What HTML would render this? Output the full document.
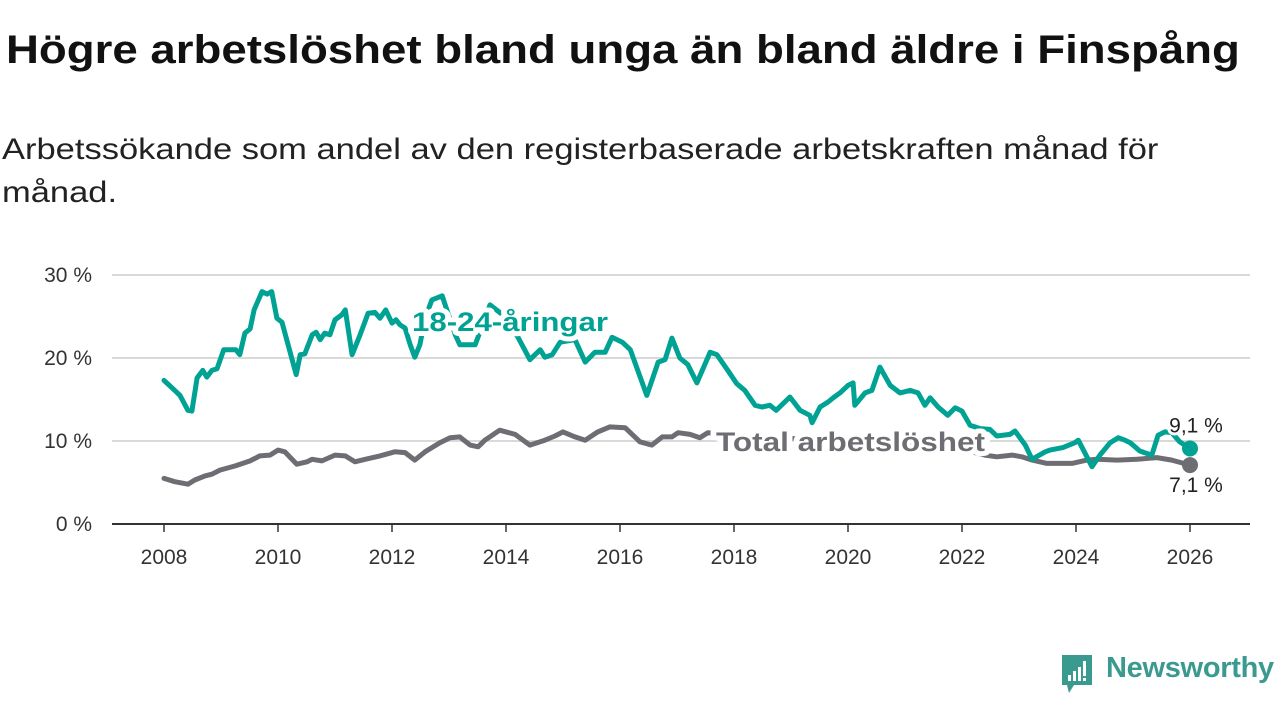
<!DOCTYPE html>
<html><head><meta charset="utf-8">
<style>
body{margin:0;width:1280px;height:720px;background:#fff;font-family:"Liberation Sans","DejaVu Sans",sans-serif;overflow:hidden;position:relative}
#title{position:absolute;left:6px;top:28px;font-size:40px;font-weight:bold;color:#111;transform:scaleX(1.14);transform-origin:0 0;white-space:nowrap}
#sub{position:absolute;left:2px;top:128px;font-size:30px;line-height:43px;color:#222;width:1100px;transform:scaleX(1.15);transform-origin:0 0;white-space:nowrap}
svg{position:absolute;left:0;top:0}
#logo{position:absolute;left:1060px;top:655px;}
#logotext{position:absolute;left:1106px;top:652px;font-size:29px;color:#3a9a90;font-weight:bold;letter-spacing:-0.3px}
</style></head><body>
<div id="title">Högre arbetslöshet bland unga än bland äldre i Finspång</div>
<div id="sub">Arbetssökande som andel av den registerbaserade arbetskraften månad för<br>månad.</div>
<svg id="chart" width="1280" height="720"></svg>
<svg id="logo" width="34" height="40">
<path d="M2 0 H32 V30 H14 L9 38 L7 30 H2 Z" fill="#3a9a90"/>
<rect x="8" y="20" width="3" height="6" fill="#fff"/><rect x="13" y="16" width="3" height="10" fill="#fff"/><rect x="18" y="12" width="3" height="14" fill="#fff"/><rect x="23" y="6" width="3" height="15" fill="#fff"/><rect x="23" y="23" width="3" height="3" fill="#fff"/>
</svg>
<div id="logotext">Newsworthy</div>
<script>
const yTicks=[0,10,20,30];
const xTicks=[2008,2010,2012,2014,2016,2018,2020,2022,2024,2026];
const youthDates=[2008.0,2008.19,2008.28,2008.42,2008.49,2008.58,2008.68,2008.75,2008.84,2008.93,2009.05,2009.26,2009.33,2009.42,2009.51,2009.58,2009.72,2009.81,2009.89,2009.98,2010.07,2010.32,2010.39,2010.47,2010.60,2010.67,2010.74,2010.82,2010.91,2011.00,2011.12,2011.18,2011.30,2011.44,2011.58,2011.70,2011.79,2011.89,2012.00,2012.07,2012.14,2012.23,2012.32,2012.40,2012.49,2012.58,2012.70,2012.88,2012.98,2013.11,2013.19,2013.46,2013.72,2013.98,2014.21,2014.42,2014.60,2014.68,2014.81,2014.95,2015.21,2015.39,2015.56,2015.74,2015.86,2016.04,2016.18,2016.47,2016.67,2016.79,2016.91,2017.05,2017.19,2017.35,2017.58,2017.70,2017.88,2018.05,2018.19,2018.37,2018.49,2018.63,2018.74,2018.98,2019.16,2019.33,2019.37,2019.51,2019.65,2019.74,2019.86,2020.00,2020.09,2020.12,2020.30,2020.42,2020.56,2020.74,2020.91,2021.09,2021.23,2021.35,2021.44,2021.58,2021.75,2021.88,2022.00,2022.14,2022.32,2022.49,2022.61,2022.84,2022.93,2023.11,2023.23,2023.46,2023.54,2023.77,2023.98,2024.04,2024.28,2024.42,2024.60,2024.74,2024.86,2024.95,2025.12,2025.33,2025.44,2025.56,2025.68,2025.82,2026.0];
const youthValues=[17.3,16.1,15.5,13.7,13.6,17.6,18.5,17.7,18.5,18.7,21,21,20.4,23,23.5,25.8,28,27.7,28,24.8,24.3,18,20.4,20.5,22.8,23.1,22.2,23,22.8,24.6,25.2,25.8,20.4,22.8,25.4,25.5,24.8,25.8,24.2,24.6,24,23.6,21.6,20.1,21.6,24.8,27,27.5,25.4,22.8,21.6,21.6,26.4,25,22.5,19.8,21,20.1,20.4,21.9,22.2,19.5,20.7,20.7,22.5,21.9,21,15.5,19.5,19.8,22.4,20,19.2,17,20.7,20.4,18.6,16.9,16.1,14.3,14.1,14.3,13.7,15.3,13.7,13.1,12.2,14.1,14.7,15.2,15.8,16.7,17,14.3,15.8,16.1,18.9,16.7,15.8,16.1,15.8,14.3,15.2,14.1,13.1,14,13.6,11.9,11.5,11.4,10.6,10.8,11.2,9.5,7.8,8.7,8.9,9.2,9.8,10.1,6.9,8.3,9.8,10.4,10.1,9.8,8.8,8.3,10.7,11.1,11,9.9,9.1];
const totalDates=[2008.0,2008.19,2008.42,2008.54,2008.72,2008.84,2008.98,2009.25,2009.51,2009.68,2009.86,2010.0,2010.12,2010.33,2010.51,2010.60,2010.77,2011.0,2011.18,2011.35,2011.53,2011.79,2012.05,2012.23,2012.40,2012.58,2012.84,2013.02,2013.19,2013.37,2013.51,2013.63,2013.89,2014.16,2014.42,2014.68,2014.86,2015.0,2015.21,2015.39,2015.61,2015.82,2016.09,2016.35,2016.56,2016.74,2016.91,2017.02,2017.23,2017.40,2017.54,2018.0,2018.5,2019.0,2019.5,2020.0,2020.5,2021.0,2021.5,2022.0,2022.4,2022.61,2022.88,2023.05,2023.23,2023.49,2023.75,2023.93,2024.19,2024.37,2024.72,2025.07,2025.42,2025.68,2026.0];
const totalValues=[5.5,5.1,4.8,5.3,5.8,6,6.5,7,7.6,8.2,8.3,8.9,8.7,7.2,7.5,7.8,7.6,8.3,8.2,7.5,7.8,8.2,8.7,8.6,7.7,8.7,9.8,10.4,10.5,9.5,9.3,10.1,11.3,10.8,9.5,10.1,10.6,11.1,10.5,10.1,11.1,11.7,11.6,9.9,9.5,10.5,10.5,11,10.8,10.4,11,10.6,10.2,10.3,10.1,10.4,10.0,9.8,9.5,9.0,8.3,8.1,8.3,8.1,7.7,7.3,7.3,7.3,7.7,7.8,7.7,7.8,8,7.7,7.1];
const svg=document.getElementById('chart');const NS='http://www.w3.org/2000/svg';
const X=y=>164+(y-2008)*57, Y=v=>524-v*8.3;
function mk(t,a,p){const e=document.createElementNS(NS,t);for(const k in a)e.setAttribute(k,a[k]);(p||svg).appendChild(e);return e;}
yTicks.forEach(v=>{
 if(v>0){const g=mk('line',{x1:112,x2:1250,y1:Y(v),y2:Y(v),stroke:'#d9d9d9','stroke-width':2});
 
 }
 const t=mk('text',{x:92,y:Y(v)+7,'text-anchor':'end','font-size':21,fill:'#333'});t.textContent=v+' %';
 
 
});
const ax=mk('line',{x1:112,x2:1250,y1:524,y2:524,stroke:'#333','stroke-width':2});


xTicks.forEach(yr=>{
 mk('line',{x1:X(yr),x2:X(yr),y1:524,y2:532,stroke:'#333','stroke-width':1.5});
 const t=mk('text',{x:X(yr),y:564,'text-anchor':'middle','font-size':21,fill:'#333'});t.textContent=yr;
 
 
});
function line(d,v,c,name){const p=mk('path',{d:d.map((x,i)=>(i?'L':'M')+X(x).toFixed(1)+' '+Y(v[i]).toFixed(1)).join(''),fill:'none',stroke:c,'stroke-width':5,'stroke-linejoin':'round','stroke-linecap':'round'});
 
 }
line(totalDates,totalValues,'#6e6d73','total-line');
line(youthDates,youthValues,'#00a294','youth-line');
function lab(x,y,txt,c,name,anchor,size,w,len,sw){const a={x:x,y:y,'font-size':size,'font-weight':w,fill:c,'text-anchor':anchor||'start',stroke:'#fff','stroke-width':sw||6,'paint-order':'stroke','stroke-linejoin':'round'};if(len){a.textLength=len;a.lengthAdjust='spacingAndGlyphs';}const t=mk('text',a);t.textContent=txt;
 
 }
lab(412,331,'18-24-åringar','#00a294','youth-series-label','start',27,'bold',196,10);
lab(716,451,'Total arbetslöshet','#6e6d73','total-series-label','start',27,'bold',269,10);
const ly=youthValues[youthValues.length-1],lt=totalValues[totalValues.length-1],lx=youthDates[youthDates.length-1];
const d1=mk('circle',{cx:X(lx),cy:Y(ly),r:8,fill:'#00a294'});
const d2=mk('circle',{cx:X(lx),cy:Y(lt),r:8,fill:'#6e6d73'});
lab(X(lx)+6,Y(ly)-16,String(ly).replace('.',',')+' %','#222','youth-end-value','middle',21,'normal',0,6);
lab(X(lx)+6,Y(lt)+27,String(lt).replace('.',',')+' %','#222','total-end-value','middle',21,'normal',0,6);
</script>
</body></html>
